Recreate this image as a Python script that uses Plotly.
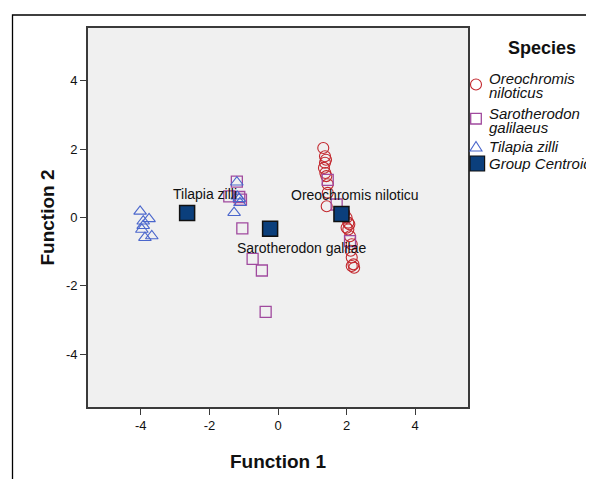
import plotly.graph_objects as go

# ---------------- data ----------------
oreo_x = [1.32, 1.37, 1.40, 1.37, 1.34, 1.38, 1.41, 1.45, 1.45, 1.42, 1.93, 2.00, 2.05, 2.08, 2.00, 2.05, 2.10, 2.15, 2.12, 2.15, 2.20, 2.15, 2.22]
oreo_y = [2.03, 1.79, 1.69, 1.60, 1.45, 1.30, 1.21, 0.97, 0.72, 0.33, 0.13, -0.01, -0.15, -0.20, -0.30, -0.35, -0.55, -0.78, -0.97, -1.17, -1.37, -1.42, -1.47]

saro_x = [-1.20, -1.42, -1.13, -1.08, -1.04, -0.74, -0.47, -0.36, 1.45, 1.71, 2.10]
saro_y = [1.05, 0.62, 0.60, 0.52, -0.32, -1.21, -1.55, -2.76, 1.10, 0.38, -0.69]

tila_x = [-4.02, -3.76, -3.93, -3.93, -3.97, -3.88, -3.68, -1.20, -1.19, -1.13, -1.11, -1.28]
tila_y = [0.18, -0.04, -0.11, -0.24, -0.35, -0.59, -0.54, 1.03, 0.62, 0.55, 0.43, 0.14]

centroid_names = ["Tilapia zilli", "Sarotherodon galilae", "Oreochromis niloticu"]
centroid_x = [-2.65, -0.23, 1.85]
centroid_y = [0.13, -0.33, 0.10]
label_x = [-3.12, -1.26, 0.31]
label_y = [0.70, -0.90, 0.67]

legend_title = "Species"
legend_lines = [["Oreochromis", "niloticus"], ["Sarotherodon", "galilaeus"], ["Tilapia zilli"], ["Group Centroid"]]

x_ticks = [-4, -2, 0, 2, 4]
y_ticks = [-4, -2, 0, 2, 4]

# ---------------- style ----------------
RED = "#c3282e"
PURPLE = "#a04a9e"
BLUE = "#4a66cc"
NAVY = "#0b3f7c"
FONT = "Liberation Sans, Arial, sans-serif"

OFF = 8  # page offset of the plot div
W, H = 594 - OFF, 479 - OFF
L, T = 88 - OFF, 28 - OFF
R = W - (468 - OFF)
B = H - (407 - OFF)
PW, PH = W - L - R, H - T - B


def px2paper(px, py):
    # px, py given in page (screenshot) pixels
    fx, fy = px - OFF, py - OFF
    return (fx - L) / PW, (H - B - fy) / PH


fig = go.Figure()

fig.add_trace(go.Scatter(x=oreo_x, y=oreo_y, mode="markers", name="Oreochromis niloticus",
                         marker=dict(symbol="circle-open", size=11, color=RED, line=dict(width=1.1, color=RED))))
fig.add_trace(go.Scatter(x=saro_x, y=saro_y, mode="markers", name="Sarotherodon galilaeus",
                         marker=dict(symbol="square-open", size=11, color=PURPLE, line=dict(width=1.3, color=PURPLE))))
fig.add_trace(go.Scatter(x=tila_x, y=tila_y, mode="markers", name="Tilapia zilli",
                         marker=dict(symbol="triangle-up-open", size=11, color=BLUE, line=dict(width=1.1, color=BLUE))))
fig.add_trace(go.Scatter(x=centroid_x, y=centroid_y, mode="markers", name="Group Centroid",
                         marker=dict(symbol="square", size=15, color=NAVY, line=dict(width=1.5, color="#111111"))))

annotations = []
for nm, lx, ly in zip(centroid_names, label_x, label_y):
    annotations.append(dict(x=lx, y=ly, xref="x", yref="y", text=nm, showarrow=False,
                            xanchor="left", yanchor="middle", font=dict(family=FONT, size=14, color="#111111")))

# ---- manual legend ----
tx, ty = px2paper(542, 48)
annotations.append(dict(x=tx, y=ty, xref="paper", yref="paper", text="<b>" + legend_title + "</b>",
                        showarrow=False, xanchor="center", yanchor="middle",
                        font=dict(family=FONT, size=18, color="#111111")))
line_pos = [[78, 93], [113, 128], [146.5], [163.5]]
for lines, ys in zip(legend_lines, line_pos):
    for txt, yy in zip(lines, ys):
        ax, ay = px2paper(488, yy)
        annotations.append(dict(x=ax, y=ay, xref="paper", yref="paper", text="<i>" + txt + "</i>",
                                showarrow=False, xanchor="left", yanchor="middle", borderpad=0,
                                font=dict(family=FONT, size=15, color="#111111")))

shapes = []
sx, sy = px2paper(476, 84.5)
shapes.append(dict(type="circle", xref="paper", yref="paper", xsizemode="pixel", ysizemode="pixel",
                   xanchor=sx, yanchor=sy, x0=-5.5, x1=5.5, y0=-5.5, y1=5.5, line=dict(color=RED, width=1.1)))
sx, sy = px2paper(476, 118.7)
shapes.append(dict(type="rect", xref="paper", yref="paper", xsizemode="pixel", ysizemode="pixel",
                   xanchor=sx, yanchor=sy, x0=-5.3, x1=5.3, y0=-5.3, y1=5.3, line=dict(color=PURPLE, width=1.3)))
sx, sy = px2paper(476, 146.5)
shapes.append(dict(type="path", xref="paper", yref="paper", xsizemode="pixel", ysizemode="pixel",
                   xanchor=sx, yanchor=sy, path="M -6,-4.5 L 6,-4.5 L 0,5 Z", line=dict(color=BLUE, width=1.1)))
sx, sy = px2paper(477.3, 163.5)
shapes.append(dict(type="rect", xref="paper", yref="paper", xsizemode="pixel", ysizemode="pixel",
                   xanchor=sx, yanchor=sy, x0=-7.3, x1=7.3, y0=-7.5, y1=7.5, fillcolor=NAVY,
                   line=dict(color="#111111", width=1.2)))

# outer frame
fx0, fy1 = px2paper(12.5, 15)
fx1, fy0 = px2paper(640, 520)
shapes.append(dict(type="rect", xref="paper", yref="paper", x0=fx0, x1=fx1, y0=fy0, y1=fy1,
                   line=dict(color="#000000", width=1.3), layer="below"))

axis_common = dict(range=[-5.54, 5.54], showgrid=False, zeroline=False, showline=True, mirror=True,
                   linecolor="#3a3a3a", linewidth=1.6, ticks="outside", ticklen=6, tickwidth=1.2,
                   tickcolor="#3a3a3a", tickfont=dict(family=FONT, size=13, color="#111111"))

fig.update_layout(
    width=W, height=H,
    margin=dict(l=L, r=R, t=T, b=B, autoexpand=False),
    paper_bgcolor="#ffffff",
    plot_bgcolor="#f0f0f0",
    showlegend=False,
    font=dict(family=FONT),
    xaxis=dict(axis_common, tickvals=x_ticks, ticktext=[str(v) for v in x_ticks],
               title=dict(text="<b>Function 1</b>", font=dict(family=FONT, size=19, color="#111111"), standoff=22)),
    yaxis=dict(axis_common, tickvals=y_ticks, ticktext=[str(v) for v in y_ticks],
               title=dict(text="<b>Function 2</b>", font=dict(family=FONT, size=19, color="#111111"), standoff=6)),
    annotations=annotations,
    shapes=shapes,
)

fig.write_html("out.html")
